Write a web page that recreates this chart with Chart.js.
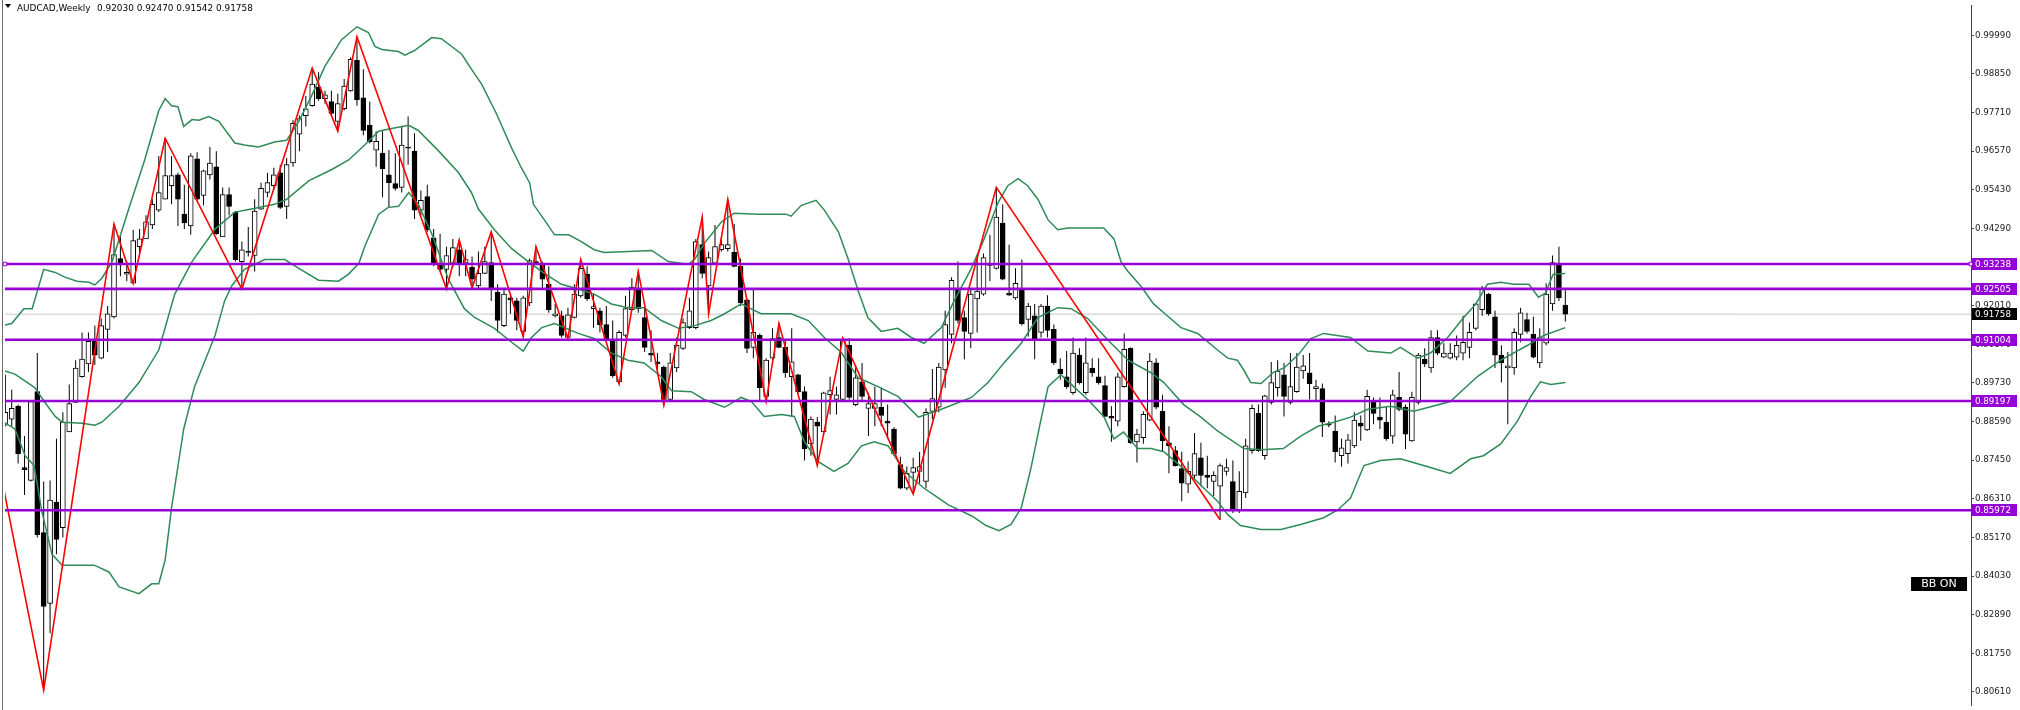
<!DOCTYPE html>
<html>
<head>
<meta charset="utf-8">
<title>AUDCAD Weekly</title>
<script src="https://cdn.jsdelivr.net/npm/chart.js@4.4.1/dist/chart.umd.min.js"></script>
<style>
  html, body { margin: 0; padding: 0; background: #fff; }
  #wrap { width: 2020px; height: 710px; }
</style>
</head>
<body>
<div id="wrap"><canvas id="priceChart" width="2020" height="710"></canvas></div>
<script>
'use strict';

// header
var symbolName = 'AUDCAD,Weekly';
var headerOhlc = [0.92030, 0.92470, 0.91542, 0.91758];

// weekly candles, oldest first
var opens = [
  0.8848, 0.8866, 0.8904, 0.8723, 0.8685, 0.8947, 0.8531, 0.8322, 0.8621, 0.8546,
  0.8828, 0.8915, 0.8991, 0.9029, 0.9102, 0.9046, 0.9131, 0.9168, 0.9340, 0.9294,
  0.9267, 0.9375, 0.9398, 0.9439, 0.9483, 0.9515, 0.9555, 0.9587, 0.9471, 0.9436,
  0.9634, 0.9526, 0.9587, 0.9611, 0.9404, 0.9529, 0.9477, 0.9331, 0.9361, 0.9349,
  0.9486, 0.9535, 0.9555, 0.9593, 0.9494, 0.9622, 0.9707, 0.9762, 0.9791, 0.9846,
  0.9812, 0.9803, 0.9745, 0.9782, 0.9835, 0.9925, 0.9814, 0.9733, 0.9660, 0.9651,
  0.9587, 0.9561, 0.9550, 0.9669, 0.9657, 0.9483, 0.9523, 0.9401, 0.9326, 0.9308,
  0.9326, 0.9366, 0.9326, 0.9314, 0.9259, 0.9296, 0.9328, 0.9241, 0.9142, 0.9224,
  0.9215, 0.9125, 0.9209, 0.9331, 0.9320, 0.9264, 0.9171, 0.9171, 0.9107, 0.9166,
  0.9230, 0.9294, 0.9192, 0.9186, 0.9145, 0.9096, 0.8976, 0.9113, 0.9189, 0.9250,
  0.9166, 0.9061, 0.9035, 0.9020, 0.8924, 0.9017, 0.9075, 0.9136, 0.9136, 0.9381,
  0.9259, 0.9326, 0.9366, 0.9369, 0.9358, 0.9317, 0.9218, 0.9078, 0.9113, 0.8933,
  0.9046, 0.9107, 0.9078, 0.8991, 0.8997, 0.8947, 0.8793, 0.8857, 0.8828, 0.8938,
  0.8924, 0.8924, 0.9084, 0.8909, 0.8976, 0.8898, 0.8898, 0.8901, 0.8860, 0.8837,
  0.8732, 0.8662, 0.8709, 0.8712, 0.8682, 0.8889, 0.8901, 0.9011, 0.9116, 0.9247,
  0.9166, 0.9119, 0.9221, 0.9235, 0.9323, 0.9311, 0.9445, 0.9238, 0.9224, 0.9250,
  0.9160, 0.9171, 0.9122, 0.9200, 0.9131, 0.9014, 0.8991, 0.8944, 0.9055, 0.8944,
  0.9017, 0.8991, 0.8965, 0.8874, 0.8860, 0.8962, 0.9075, 0.8799, 0.8811, 0.8863,
  0.9032, 0.8889, 0.8796, 0.8773, 0.8720, 0.8674, 0.8700, 0.8752, 0.8700, 0.8682,
  0.8668, 0.8712, 0.8682, 0.8595, 0.8648, 0.8773, 0.8883, 0.8758, 0.8915, 0.8959,
  0.8997, 0.8915, 0.8947, 0.9008, 0.9003, 0.8956, 0.8956, 0.8851, 0.8831, 0.8758,
  0.8764, 0.8787, 0.8854, 0.8834, 0.8918, 0.8872, 0.8857, 0.8816, 0.8930, 0.8901,
  0.8802, 0.8915, 0.9043, 0.9017, 0.9107, 0.9049, 0.9046, 0.9049, 0.9061, 0.9078,
  0.9134, 0.9189, 0.9235, 0.9168, 0.9055, 0.9017, 0.9017, 0.9116, 0.9160, 0.9116,
  0.9032, 0.9090, 0.9206, 0.9323, 0.92030
];
var highs = [
  0.8997, 0.8953, 0.8909, 0.8816, 0.8921, 0.9061, 0.8682, 0.8685, 0.8808, 0.8886,
  0.8968, 0.9040, 0.9122, 0.9122, 0.9142, 0.9163, 0.9200, 0.9442, 0.9410, 0.9331,
  0.9425, 0.9427, 0.9468, 0.9515, 0.9643, 0.9695, 0.9643, 0.9593, 0.9558, 0.9651,
  0.9654, 0.9602, 0.9669, 0.9657, 0.9550, 0.9550, 0.9480, 0.9390, 0.9433, 0.9515,
  0.9564, 0.9593, 0.9608, 0.9617, 0.9637, 0.9748, 0.9762, 0.9820, 0.9902, 0.9890,
  0.9835, 0.9835, 0.9826, 0.9870, 0.9934, 0.9995, 0.9899, 0.9803, 0.9716, 0.9716,
  0.9660, 0.9651, 0.9730, 0.9759, 0.9710, 0.9541, 0.9558, 0.9427, 0.9413, 0.9375,
  0.9398, 0.9395, 0.9366, 0.9346, 0.9361, 0.9375, 0.9419, 0.9264, 0.9253, 0.9228,
  0.9224, 0.9230, 0.9340, 0.9375, 0.9331, 0.9317, 0.9206, 0.9186, 0.9195, 0.9264,
  0.9337, 0.9317, 0.9235, 0.9195, 0.9200, 0.9157, 0.9128, 0.9230, 0.9282, 0.9302,
  0.9195, 0.9128, 0.9061, 0.9024, 0.9061, 0.9107, 0.9163, 0.9224, 0.9398, 0.9462,
  0.9361, 0.9439, 0.9404, 0.9515, 0.9442, 0.9340, 0.9221, 0.9253, 0.9119, 0.9046,
  0.9134, 0.9148, 0.9099, 0.9134, 0.9000, 0.8962, 0.8874, 0.8872, 0.8947, 0.8991,
  0.8962, 0.9105, 0.9105, 0.9026, 0.9032, 0.8944, 0.8962, 0.8959, 0.8909, 0.8842,
  0.8755, 0.8726, 0.8752, 0.8770, 0.8898, 0.9014, 0.9032, 0.9186, 0.9285, 0.9331,
  0.9186, 0.9253, 0.9346, 0.9355, 0.9410, 0.9550, 0.9500, 0.9381, 0.9311, 0.9337,
  0.9209, 0.9206, 0.9206, 0.9232, 0.9145, 0.9046, 0.9067, 0.9107, 0.9075, 0.9107,
  0.9046, 0.9046, 0.8994, 0.8904, 0.9003, 0.9119, 0.9078, 0.8837, 0.8889, 0.9061,
  0.9046, 0.8938, 0.8845, 0.8787, 0.8770, 0.8741, 0.8825, 0.8796, 0.8758, 0.8712,
  0.8735, 0.8749, 0.8744, 0.8712, 0.8808, 0.8909, 0.8909, 0.8938, 0.9035, 0.9040,
  0.9032, 0.9061, 0.9061, 0.9055, 0.9061, 0.8982, 0.8971, 0.8860, 0.8877, 0.8808,
  0.8822, 0.8886, 0.8877, 0.8953, 0.8930, 0.8930, 0.8904, 0.8953, 0.9005, 0.8909,
  0.8947, 0.9061, 0.9075, 0.9128, 0.9128, 0.9090, 0.9090, 0.9113, 0.9171, 0.9151,
  0.9209, 0.9259, 0.9238, 0.9186, 0.9084, 0.9064, 0.9134, 0.9195, 0.9180, 0.9168,
  0.9134, 0.9267, 0.9349, 0.9375, 0.92470
];
var lows = [
  0.8845, 0.8845, 0.8735, 0.8642, 0.8682, 0.8517, 0.8066, 0.8234, 0.8467, 0.8517,
  0.8828, 0.8915, 0.8988, 0.9005, 0.9026, 0.9043, 0.9064, 0.9163, 0.9288, 0.9273,
  0.9267, 0.9352, 0.9398, 0.9427, 0.9477, 0.9515, 0.9500, 0.9436, 0.9427, 0.9410,
  0.9510, 0.9497, 0.9573, 0.9410, 0.9404, 0.9468, 0.9331, 0.9250, 0.9346, 0.9302,
  0.9483, 0.9521, 0.9544, 0.9486, 0.9457, 0.9611, 0.9657, 0.9730, 0.9788, 0.9806,
  0.9797, 0.9762, 0.9716, 0.9777, 0.9832, 0.9791, 0.9704, 0.9680, 0.9611, 0.9521,
  0.9491, 0.9541, 0.9535, 0.9617, 0.9457, 0.9468, 0.9419, 0.9317, 0.9302, 0.9250,
  0.9314, 0.9288, 0.9288, 0.9253, 0.9253, 0.9294, 0.9215, 0.9122, 0.9138, 0.9177,
  0.9128, 0.9110, 0.9200, 0.9323, 0.9250, 0.9180, 0.9166, 0.9107, 0.9104, 0.9163,
  0.9224, 0.9215, 0.9136, 0.9122, 0.9099, 0.8988, 0.8970, 0.9107, 0.9186, 0.9180,
  0.9064, 0.9035, 0.9011, 0.8907, 0.8920, 0.9005, 0.9070, 0.9132, 0.9131, 0.9282,
  0.9177, 0.9323, 0.9361, 0.9361, 0.9314, 0.9200, 0.9061, 0.9046, 0.8918, 0.8918,
  0.9040, 0.9075, 0.8988, 0.8872, 0.8944, 0.8744, 0.8758, 0.8729, 0.8822, 0.8880,
  0.8880, 0.8918, 0.8924, 0.8904, 0.8918, 0.8816, 0.8845, 0.8845, 0.8808, 0.8758,
  0.8659, 0.8656, 0.8645, 0.8677, 0.8662, 0.8866, 0.8886, 0.8959, 0.9090, 0.9148,
  0.9043, 0.9075, 0.9122, 0.9230, 0.9273, 0.9308, 0.9276, 0.9230, 0.9218, 0.9142,
  0.9110, 0.9043, 0.9107, 0.9107, 0.9026, 0.8982, 0.8956, 0.8938, 0.8968, 0.8938,
  0.8991, 0.8968, 0.8872, 0.8799, 0.8845, 0.8959, 0.8793, 0.8738, 0.8793, 0.8860,
  0.8895, 0.8770, 0.8706, 0.8726, 0.8624, 0.8648, 0.8691, 0.8668, 0.8662, 0.8639,
  0.8569, 0.8700, 0.8589, 0.8589, 0.8633, 0.8764, 0.8770, 0.8746, 0.8909, 0.8933,
  0.8874, 0.8909, 0.8944, 0.8985, 0.8924, 0.8918, 0.8813, 0.8842, 0.8738, 0.8726,
  0.8735, 0.8781, 0.8802, 0.8831, 0.8851, 0.8837, 0.8802, 0.8793, 0.8889, 0.8778,
  0.8799, 0.8909, 0.9020, 0.9003, 0.9055, 0.9046, 0.9043, 0.9040, 0.9040, 0.9046,
  0.9128, 0.9171, 0.9171, 0.9017, 0.8974, 0.8851, 0.8997, 0.9093, 0.9119, 0.9046,
  0.9017, 0.9084, 0.9186, 0.9215, 0.91542
];
var closes = [
  0.8886, 0.8898, 0.8764, 0.8717, 0.8918, 0.8525, 0.8313, 0.8627, 0.8511, 0.8857,
  0.8912, 0.9017, 0.9043, 0.9096, 0.9055, 0.9142, 0.9177, 0.9352, 0.9328, 0.9299,
  0.9393, 0.9398, 0.9448, 0.9500, 0.9535, 0.9585, 0.9585, 0.9515, 0.9445, 0.9643,
  0.9515, 0.9599, 0.9622, 0.9413, 0.9529, 0.9494, 0.9337, 0.9366, 0.9358, 0.9480,
  0.9547, 0.9564, 0.9587, 0.9491, 0.9617, 0.9739, 0.9753, 0.9782, 0.9855, 0.9812,
  0.9823, 0.9768, 0.9797, 0.9849, 0.9928, 0.9809, 0.9718, 0.9684, 0.9686, 0.9605,
  0.9564, 0.9547, 0.9675, 0.9666, 0.9483, 0.9512, 0.9425, 0.9326, 0.9308, 0.9349,
  0.9372, 0.9326, 0.9337, 0.9279, 0.9296, 0.9331, 0.9253, 0.9157, 0.9235, 0.9218,
  0.9157, 0.9224, 0.9334, 0.9326, 0.9279, 0.9189, 0.9177, 0.9113, 0.9174, 0.9235,
  0.9311, 0.9221, 0.9198, 0.9145, 0.9102, 0.8994, 0.9122, 0.9192, 0.9256, 0.9192,
  0.9078, 0.9055, 0.9029, 0.8924, 0.9032, 0.9084, 0.9151, 0.9186, 0.9390, 0.9296,
  0.9343, 0.9375, 0.9381, 0.9381, 0.9317, 0.9209, 0.9075, 0.9122, 0.8959, 0.9040,
  0.9104, 0.9078, 0.9003, 0.9035, 0.8947, 0.8778, 0.8866, 0.8845, 0.8944, 0.8950,
  0.8938, 0.9099, 0.8930, 0.8988, 0.8933, 0.8912, 0.8912, 0.8877, 0.8854, 0.8764,
  0.8662, 0.8706, 0.8723, 0.8726, 0.8886, 0.8927, 0.9020, 0.9145, 0.9276, 0.9157,
  0.9125, 0.9235, 0.9244, 0.9343, 0.9320, 0.9462, 0.9279, 0.9232, 0.9267, 0.9148,
  0.9200, 0.9099, 0.9200, 0.9128, 0.9032, 0.9000, 0.8962, 0.9061, 0.8974, 0.9032,
  0.9003, 0.8974, 0.8874, 0.8869, 0.8991, 0.9072, 0.8796, 0.8822, 0.8880, 0.9037,
  0.8901, 0.8802, 0.8787, 0.8729, 0.8677, 0.8712, 0.8764, 0.8700, 0.8694, 0.8700,
  0.8729, 0.8723, 0.8595, 0.8653, 0.8787, 0.8898, 0.8773, 0.8935, 0.8974, 0.9008,
  0.8933, 0.8962, 0.9020, 0.9023, 0.8971, 0.8962, 0.8857, 0.8848, 0.8770, 0.8781,
  0.8805, 0.8863, 0.8845, 0.8933, 0.8883, 0.8863, 0.8808, 0.8938, 0.8895, 0.8822,
  0.8930, 0.9055, 0.9029, 0.9107, 0.9061, 0.9061, 0.9061, 0.9084, 0.9093, 0.9122,
  0.9206, 0.9253, 0.9177, 0.9055, 0.9032, 0.9023, 0.9122, 0.9180, 0.9125, 0.9049,
  0.9107, 0.9235, 0.9328, 0.9224, 0.91758
];

// bollinger bands (20) at sample bars
var upperIdx = [
  -0.5, 1.0, 2.9, 4.2, 6.0, 7.8, 9.3, 11.2, 13.1, 14.0, 15.1, 16.7, 19.3, 21.8, 24.0, 25.0,
  26.0, 27.0, 27.9, 29.2, 30.3, 31.8, 33.4, 35.9, 37.4, 39.6, 42.1, 44.0, 45.9, 47.9, 50.0,
  52.6, 55.0, 56.8, 57.8, 58.9, 61.5, 62.5, 64.0, 66.7, 68.2, 71.4, 72.9, 74.5, 76.8, 79.2,
  80.7, 82.0, 82.6, 84.2, 85.9, 88.1, 90.1, 92.1, 93.7, 97.5, 101.1, 103.7, 106.8, 107.8,
  109.3, 112.0, 114.0, 117.8, 122.1, 122.9, 124.5, 126.8, 128.1, 130.3, 131.8, 133.4, 134.9,
  137.0, 139.6, 141.7, 143.7, 146.4, 148.4, 151.1, 153.1, 155.3, 156.8, 158.4, 159.9, 161.5,
  163.1, 164.6, 166.2, 171.8, 173.4, 174.5, 175.6, 177.6, 179.6, 181.2, 183.9, 186.5, 189.6,
  191.2, 192.7, 193.7, 194.8, 196.4, 198.4, 200.0, 202.2, 204.2, 206.2, 210.4, 213.1, 216.7,
  218.2, 220.9, 222.9, 225.6, 228.1, 230.0, 231.8, 233.9, 235.9, 238.3, 239.8, 240.9, 242.1,
  244.0
];
var upperBand = [
  0.9142, 0.9148, 0.9192, 0.9192, 0.9308, 0.9299, 0.9285, 0.9273, 0.9270, 0.9262,
  0.9282, 0.9331, 0.9486, 0.9631, 0.9777, 0.9812, 0.9791, 0.9788, 0.9730, 0.9750,
  0.9748, 0.9759, 0.9745, 0.9681, 0.9675, 0.9669, 0.9684, 0.9689, 0.9745, 0.9820,
  0.9908, 0.9986, 1.0024, 1.0007, 0.9966, 0.9957, 0.9951, 0.9940, 0.9954, 0.9992,
  0.9989, 0.9943, 0.9899, 0.9855, 0.9768, 0.9666, 0.9608, 0.9564, 0.9500, 0.9457,
  0.9410, 0.9410, 0.9390, 0.9366, 0.9358, 0.9361, 0.9364, 0.9331, 0.9323, 0.9337,
  0.9384, 0.9448, 0.9474, 0.9471, 0.9471, 0.9465, 0.9497, 0.9512, 0.9483, 0.9419,
  0.9340, 0.9244, 0.9166, 0.9125, 0.9134, 0.9107, 0.9090, 0.9136, 0.9215, 0.9311,
  0.9398, 0.9506, 0.9555, 0.9576, 0.9555, 0.9515, 0.9454, 0.9425, 0.9430, 0.9430,
  0.9398, 0.9331, 0.9302, 0.9259, 0.9206, 0.9180, 0.9136, 0.9119, 0.9070, 0.9046,
  0.9040, 0.9011, 0.8974, 0.8971, 0.9005, 0.9017, 0.9055, 0.9104, 0.9119, 0.9107,
  0.9067, 0.9061, 0.9078, 0.9046, 0.9061, 0.9107, 0.9166, 0.9206, 0.9264, 0.9270,
  0.9264, 0.9264, 0.9226, 0.9238, 0.9294, 0.9296
];
var middleIdx = [
  -0.5, 1.5, 4.6, 6.2, 7.8, 8.9, 12.0, 14.0, 15.1, 17.8, 20.9, 24.0, 26.5, 29.2, 32.8, 35.9,
  38.5, 42.1, 44.0, 47.5, 51.0, 53.7, 56.2, 58.4, 60.4, 63.1, 64.6, 67.8, 70.9, 72.9, 74.0,
  76.5, 79.2, 81.8, 84.3, 87.0, 89.6, 92.1, 94.8, 97.4, 99.9, 102.6, 105.3, 107.8, 110.4,
  112.5, 115.1, 118.2, 122.9, 125.6, 128.1, 130.7, 133.4, 136.5, 139.6, 142.8, 146.4, 151.1,
  153.7, 156.2, 158.9, 161.5, 164.6, 166.7, 169.3, 172.5, 175.6, 179.2, 181.2, 184.3, 187.0,
  189.6, 193.7, 196.4, 199.9, 202.6, 205.3, 207.8, 210.4, 213.1, 216.7, 220.3, 226.0, 230.2,
  233.9, 238.1, 240.6, 244.0
];
var middleBand = [
  0.9011, 0.8999, 0.8959, 0.8915, 0.8874, 0.8857, 0.8854, 0.8848, 0.8857, 0.8904,
  0.8974, 0.9070, 0.9235, 0.9331, 0.9427, 0.9477, 0.9486, 0.9500, 0.9515, 0.9570,
  0.9602, 0.9631, 0.9675, 0.9716, 0.9724, 0.9733, 0.9718, 0.9657, 0.9593, 0.9535,
  0.9486, 0.9425, 0.9369, 0.9331, 0.9296, 0.9264, 0.9250, 0.9235, 0.9206, 0.9195,
  0.9195, 0.9157, 0.9134, 0.9142, 0.9157, 0.9177, 0.9206, 0.9177, 0.9177, 0.9157,
  0.9107, 0.9064, 0.8988, 0.8962, 0.8933, 0.8872, 0.8895, 0.8930, 0.8974, 0.9032,
  0.9090, 0.9166, 0.9195, 0.9192, 0.9163, 0.9099, 0.9040, 0.9003, 0.8974, 0.8909,
  0.8872, 0.8831, 0.8779, 0.8776, 0.8779, 0.8816, 0.8845, 0.8857, 0.8872, 0.8895,
  0.8904, 0.8889, 0.8918, 0.8991, 0.9040, 0.9084, 0.9113, 0.9136
];
var lowerIdx = [
  -0.5, 1.5, 3.1, 4.5, 5.7, 7.3, 8.9, 12.0, 13.9, 16.2, 17.8, 20.9, 22.9, 24.0, 25.0, 26.0,
  27.9, 29.6, 32.8, 34.3, 35.4, 37.4, 40.6, 43.7, 45.9, 49.0, 52.1, 53.7, 55.3, 56.2, 58.4,
  59.9, 61.5, 63.1, 64.6, 66.7, 69.3, 71.8, 73.4, 76.5, 79.2, 81.0, 82.3, 83.9, 85.9, 89.6,
  92.1, 94.8, 97.4, 99.9, 102.6, 104.2, 107.3, 109.3, 112.5, 115.1, 116.7, 118.7, 121.4,
  123.4, 125.0, 127.1, 129.6, 131.8, 133.9, 135.9, 138.1, 140.6, 143.7, 145.3, 147.5, 151.1,
  153.4, 155.4, 157.3, 158.9, 160.4, 162.0, 163.1, 165.1, 167.1, 169.3, 171.8, 173.4, 174.9,
  177.1, 179.2, 181.2, 184.3, 187.0, 189.6, 191.2, 193.2, 196.4, 199.5, 202.6, 206.2, 208.4,
  210.4, 212.5, 215.1, 218.2, 222.9, 226.0, 229.2, 231.2, 233.9, 236.5, 238.6, 240.1, 241.7,
  244.0
];
var lowerBand = [
  0.8860, 0.8837, 0.8758, 0.8729, 0.8595, 0.8467, 0.8435, 0.8435, 0.8435, 0.8415,
  0.8371, 0.8351, 0.8380, 0.8380, 0.8450, 0.8604, 0.8837, 0.8962, 0.9113, 0.9215,
  0.9259, 0.9308, 0.9337, 0.9337, 0.9311, 0.9276, 0.9273, 0.9294, 0.9326, 0.9375,
  0.9471, 0.9491, 0.9494, 0.9535, 0.9500, 0.9413, 0.9279, 0.9192, 0.9166, 0.9134,
  0.9093, 0.9067, 0.9107, 0.9136, 0.9148, 0.9119, 0.9104, 0.9061, 0.9040, 0.9032,
  0.8991, 0.8950, 0.8947, 0.8924, 0.8901, 0.8930, 0.8918, 0.8874, 0.8880, 0.8874,
  0.8799, 0.8741, 0.8712, 0.8735, 0.8787, 0.8799, 0.8787, 0.8712, 0.8662, 0.8642,
  0.8613, 0.8581, 0.8552, 0.8537, 0.8555, 0.8604, 0.8720, 0.8866, 0.8962, 0.8997,
  0.8962, 0.8924, 0.8874, 0.8808, 0.8828, 0.8779, 0.8779, 0.8770, 0.8720, 0.8671,
  0.8624, 0.8584, 0.8552, 0.8540, 0.8540, 0.8555, 0.8575, 0.8598, 0.8633, 0.8729,
  0.8744, 0.8749, 0.8723, 0.8706, 0.8749, 0.8758, 0.8793, 0.8860, 0.8933, 0.8976,
  0.8968, 0.8974
];

// zigzag pivots
var zigzagIdx = [-0.2, 6, 17, 20, 25, 37, 48, 52, 55, 69, 71, 73, 76, 81, 83, 88, 90, 96, 99, 103,
  109, 110, 113, 119, 121, 127, 131, 142, 155, 190];
var zigzagVals = [0.8655, 0.8066, 0.9442, 0.9267, 0.9695, 0.9250, 0.9902, 0.9716, 0.9995, 0.9250,
  0.9395, 0.9253, 0.9419, 0.9110, 0.9375, 0.9104, 0.9337, 0.8970, 0.9302, 0.8907,
  0.9462, 0.9177, 0.9515, 0.8918, 0.9148, 0.8729, 0.9105, 0.8645, 0.9550, 0.8569];

// horizontal levels and axis
var levels = [0.93238, 0.92505, 0.91004, 0.89197, 0.85972];
var bidPrice = 0.91758;
var yTicks = [0.99990, 0.98850, 0.97710, 0.96570, 0.95430, 0.94290, 0.93150, 0.92010, 0.90870,
  0.89730, 0.88590, 0.87450, 0.86310, 0.85170, 0.84030, 0.82890, 0.81750, 0.80610];
var yMin = 0.80223, yMax = 1.00883;
var xMin = -0.05, xMax = 307.45;

var levelColor = '#9600d6';
var bandColor = '#2e8b57';

function pairs(idx, vals) {
    return idx.map(function (x, k) { return { x: x, y: vals[k] }; });
}

var wickData = highs.map(function (h, i) { return { x: i, y: [lows[i], h] }; });
var bodyData = opens.map(function (o, i) { return { x: i, y: [o, closes[i]] }; });
var bodyColors = opens.map(function (o, i) { return closes[i] >= o ? '#ffffff' : '#000000'; });

var datasets = [];
levels.forEach(function (v, k) {
    datasets.push({
        type: 'line',
        data: [{ x: xMin, y: v }, { x: xMax, y: v }],
        borderColor: levelColor,
        borderWidth: 2.6,
        pointRadius: k === 0 ? 2.5 : 0,
        pointStyle: 'rect',
        pointBackgroundColor: '#ffffff',
        pointBorderColor: levelColor,
        pointBorderWidth: 1,
        clip: false,
        order: 0
    });
});
datasets.push({
    type: 'line',
    data: pairs(zigzagIdx, zigzagVals),
    borderColor: '#ff0000',
    borderWidth: 1.6,
    pointRadius: 0,
    order: 1
});
[[upperIdx, upperBand], [middleIdx, middleBand], [lowerIdx, lowerBand]].forEach(function (b) {
    datasets.push({
        type: 'line',
        data: pairs(b[0], b[1]),
        borderColor: bandColor,
        borderWidth: 1.5,
        pointRadius: 0,
        order: 2
    });
});
datasets.push({
    type: 'bar',
    data: bodyData,
    backgroundColor: bodyColors,
    borderColor: '#000000',
    borderWidth: 1,
    borderSkipped: false,
    barThickness: 5,
    grouped: false,
    order: 3
});
datasets.push({
    type: 'bar',
    data: wickData,
    backgroundColor: '#000000',
    borderWidth: 0,
    barThickness: 1,
    inflateAmount: 0,
    grouped: false,
    order: 4
});
datasets.push({
    type: 'line',
    data: [{ x: xMin, y: bidPrice }, { x: xMax, y: bidPrice }],
    borderColor: '#c8c8c8',
    borderWidth: 1,
    pointRadius: 0,
    order: 5
});

// fit a text run into a given pixel width
function fitFont(ctx, text, width) {
    ctx.font = '10px "DejaVu Sans"';
    var size = 10 * width / ctx.measureText(text).width;
    return size.toFixed(2) + 'px "DejaVu Sans"';
}

var overlayPlugin = {
    id: 'overlay',
    beforeDraw: function (chart) {
        var ctx = chart.ctx;
        ctx.save();
        ctx.fillStyle = '#ffffff';
        ctx.fillRect(0, 0, chart.width, chart.height);
        ctx.strokeStyle = '#6a6a6a';
        ctx.lineWidth = 1;
        ctx.beginPath();
        ctx.moveTo(2.5, 0);
        ctx.lineTo(2.5, chart.height);
        ctx.stroke();
        ctx.restore();
    },
    afterDraw: function (chart) {
        var ctx = chart.ctx;
        var yScale = chart.scales.y;
        var right = chart.chartArea.right;
        ctx.save();

        // header
        ctx.fillStyle = '#000000';
        ctx.beginPath();
        ctx.moveTo(5, 4);
        ctx.lineTo(11, 4);
        ctx.lineTo(8, 8);
        ctx.closePath();
        ctx.fill();
        var ohlcText = headerOhlc.map(function (v) { return v.toFixed(5); }).join(' ');
        ctx.font = fitFont(ctx, ohlcText, 156);
        ctx.textBaseline = 'alphabetic';
        ctx.textAlign = 'left';
        ctx.fillText(symbolName, 17, 10.5);
        ctx.fillText(ohlcText, 97, 10.5);

        // price boxes on the axis
        ctx.font = '8.7px "DejaVu Sans"';
        ctx.textBaseline = 'middle';
        function box(v, color) {
            var y = Math.round(yScale.getPixelForValue(v));
            ctx.fillStyle = color;
            ctx.fillRect(right + 1, y - 6, 45, 12);
            ctx.fillStyle = '#ffffff';
            ctx.fillText(v.toFixed(5), right + 4, y + 0.5);
        }
        levels.forEach(function (v) { box(v, levelColor); });
        box(bidPrice, '#000000');

        // indicator switch label
        ctx.fillStyle = '#000000';
        ctx.fillRect(right - 60, 577, 56, 14);
        ctx.fillStyle = '#ffffff';
        ctx.font = '11px "DejaVu Sans"';
        ctx.textAlign = 'center';
        ctx.fillText('BB ON', right - 32, 584.5);
        ctx.restore();
    }
};

var priceChart = new Chart(document.getElementById('priceChart'), {
    type: 'bar',
    data: { datasets: datasets },
    options: {
        responsive: false,
        animation: false,
        devicePixelRatio: 1,
        layout: { padding: { left: 3, top: 0, right: 0, bottom: 0 } },
        plugins: { legend: { display: false }, tooltip: { enabled: false } },
        scales: {
            x: { type: 'linear', min: xMin, max: xMax, display: false, offset: false },
            y: {
                position: 'right',
                min: yMin,
                max: yMax,
                afterBuildTicks: function (s) {
                    s.ticks = yTicks.map(function (v) { return { value: v }; });
                },
                afterFit: function (s) {
                    s.width = 49;
                    s.paddingTop = 0;
                    s.paddingBottom = 0;
                },
                grid: { drawOnChartArea: false, drawTicks: true, tickLength: 3, color: '#444444' },
                border: { display: true, color: '#444444', width: 1 },
                ticks: {
                    padding: 1,
                    color: '#1a1a1a',
                    autoSkip: false,
                    maxRotation: 0,
                    font: { family: 'DejaVu Sans', size: 8.7 },
                    callback: function (v) { return Number(v).toFixed(5); }
                }
            }
        }
    },
    plugins: [overlayPlugin]
});
</script>
</body>
</html>
